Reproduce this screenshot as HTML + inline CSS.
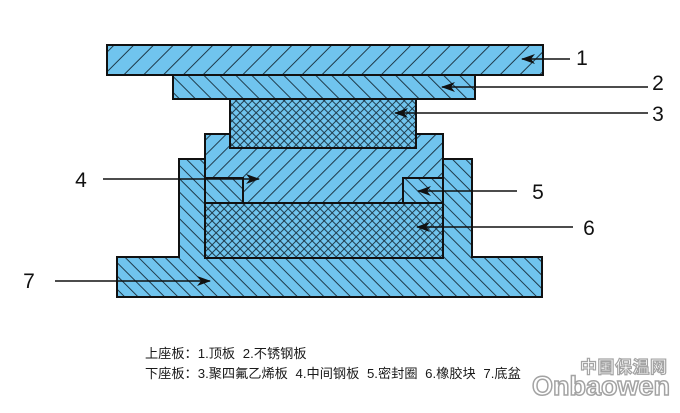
<!DOCTYPE html>
<html>
<head>
<meta charset="utf-8">
<style>
html,body{margin:0;padding:0;background:#fff;}
body{width:680px;height:413px;overflow:hidden;position:relative;}
svg{position:absolute;left:0;top:0;}
</style>
</head>
<body>
<svg width="680" height="413" viewBox="0 0 680 413" xmlns="http://www.w3.org/2000/svg">
<defs>
  <pattern id="hTop" patternUnits="userSpaceOnUse" width="14" height="40" patternTransform="rotate(45)">
    <rect width="14" height="40" fill="#70c4ee"/>
    <line x1="0.5" y1="0" x2="0.5" y2="40" stroke="#1e3a4a" stroke-width="1"/>
  </pattern>
  <pattern id="hP2" patternUnits="userSpaceOnUse" width="11.3" height="40" patternTransform="rotate(-45)">
    <rect width="11.3" height="40" fill="#70c4ee"/>
    <line x1="0.5" y1="0" x2="0.5" y2="40" stroke="#1e3a4a" stroke-width="1"/>
  </pattern>
  <pattern id="hMid" patternUnits="userSpaceOnUse" width="10.6" height="40" patternTransform="rotate(45)">
    <rect width="10.6" height="40" fill="#70c4ee"/>
    <line x1="0.5" y1="0" x2="0.5" y2="40" stroke="#1e3a4a" stroke-width="1"/>
  </pattern>
  <pattern id="hBase" patternUnits="userSpaceOnUse" width="9.4" height="40" patternTransform="rotate(-45)">
    <rect width="9.4" height="40" fill="#70c4ee"/>
    <line x1="0.5" y1="0" x2="0.5" y2="40" stroke="#1e3a4a" stroke-width="1"/>
  </pattern>
  <pattern id="hCross" patternUnits="userSpaceOnUse" width="5.66" height="5.66" patternTransform="rotate(45)">
    <rect width="5.66" height="5.66" fill="#70c4ee"/>
    <line x1="0.5" y1="0" x2="0.5" y2="5.66" stroke="#1e3a4a" stroke-width="1"/>
    <line x1="0" y1="0.5" x2="5.66" y2="0.5" stroke="#1e3a4a" stroke-width="1"/>
  </pattern>
  <marker id="arr" markerWidth="14" markerHeight="10" refX="13" refY="5" orient="auto" markerUnits="userSpaceOnUse">
    <path d="M0,0 L14,5 L0,10 L4,5 Z" fill="#111"/>
  </marker>
</defs>

<!-- Base 7 -->
<path d="M117,257 L179,257 L179,159 L472,159 L472,257 L542,257 L542,297 L117,297 Z" fill="url(#hBase)" stroke="#111" stroke-width="2"/>
<!-- Middle steel plate 4 -->
<rect x="205" y="134" width="238" height="69" fill="url(#hMid)" stroke="#111" stroke-width="2"/>
<!-- Seals 5 -->
<rect x="205" y="178" width="38" height="25" fill="url(#hBase)" stroke="#111" stroke-width="2"/>
<rect x="403" y="178" width="40" height="25" fill="url(#hBase)" stroke="#111" stroke-width="2"/>
<!-- Rubber 6 -->
<rect x="205" y="203" width="238" height="55" fill="url(#hCross)" stroke="#111" stroke-width="2"/>
<!-- Top plate 1 -->
<rect x="107" y="45" width="436" height="30" fill="url(#hTop)" stroke="#111" stroke-width="2"/>
<!-- Stainless plate 2 -->
<rect x="173" y="75" width="302" height="24" fill="url(#hP2)" stroke="#111" stroke-width="2"/>
<!-- PTFE 3 -->
<rect x="230" y="99" width="186" height="49" fill="url(#hCross)" stroke="#111" stroke-width="2"/>

<!-- leaders -->
<g stroke="#111" stroke-width="1.6" fill="none">
  <line x1="570" y1="59" x2="522" y2="59" marker-end="url(#arr)"/>
  <line x1="648" y1="87" x2="442" y2="87" marker-end="url(#arr)"/>
  <line x1="648" y1="113" x2="395" y2="113" marker-end="url(#arr)"/>
  <line x1="103" y1="179" x2="259" y2="179" marker-end="url(#arr)"/>
  <line x1="517" y1="191" x2="418" y2="191" marker-end="url(#arr)"/>
  <line x1="573" y1="227" x2="417" y2="227" marker-end="url(#arr)"/>
  <line x1="55" y1="281" x2="210" y2="281" marker-end="url(#arr)"/>
</g>

<g font-family="Liberation Sans, sans-serif" font-size="21" fill="#111" text-anchor="middle">
  <text x="582" y="65">1</text>
  <text x="658" y="90">2</text>
  <text x="658" y="121">3</text>
  <text x="81" y="187">4</text>
  <text x="538" y="199">5</text>
  <text x="589" y="235">6</text>
  <text x="29" y="288">7</text>
</g>

<g font-family="Liberation Sans, 'Noto Sans CJK SC', sans-serif" font-size="13.2" fill="#1a1a1a" word-spacing="4">
  <text x="145" y="358">上座板：1.顶板 2.不锈钢板</text>
  <text x="145" y="378">下座板：3.聚四氟乙烯板 4.中间钢板 5.密封圈 6.橡胶块 7.底盆</text>
</g>

<!-- watermark -->
<g opacity="0.9">
  <text x="580" y="373" font-family="Liberation Sans, 'Noto Sans CJK SC', sans-serif" font-size="17" font-weight="bold" fill="#fff" stroke="#9a9a9a" stroke-width="1.2" letter-spacing="0.5">中国保温网</text>
  <text x="532" y="395" font-family="Liberation Sans, sans-serif" font-size="27" font-weight="bold" fill="#fff" stroke="#9a9a9a" stroke-width="1.5">Onbaowen</text>
</g>
</svg>
</body>
</html>
